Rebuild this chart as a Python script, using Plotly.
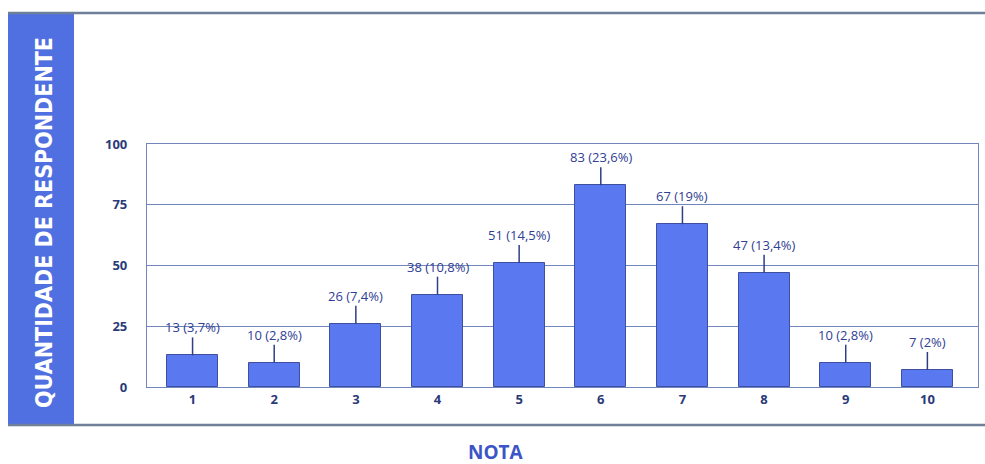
import plotly.graph_objects as go

# Survey data: number of respondents per score
notas = [1, 2, 3, 4, 5, 6, 7, 8, 9, 10]
respondentes = [13, 10, 26, 38, 51, 83, 67, 47, 10, 7]
percentuais = ["3,7%", "2,8%", "7,4%", "10,8%", "14,5%", "23,6%", "19%", "13,4%", "2,8%", "2%"]
y_ticks = [0, 25, 50, 75, 100]

W, H = 985, 464
M_L, M_R, M_T, M_B = 147, 7, 144, 77
PW, PH = W - M_L - M_R, H - M_T - M_B


def px_x(px):
    """Horizontal pixel position -> paper coordinate."""
    return (px - M_L) / PW


def px_y(py):
    """Vertical pixel position (from top) -> paper coordinate."""
    return (H - M_B - py) / PH


BAR = "#5a78ef"
NAVY = "#2f3f86"
BAND = "#506fe0"
FRAME = "#6d7f99"
GRID = "#7186bd"

fig = go.Figure()
fig.add_trace(go.Bar(
    x=notas, y=respondentes, width=0.625,
    marker=dict(color=BAR, line=dict(color="#3d4f9e", width=1)),
    hoverinfo="x+y",
))

shapes = []
annotations = []

# Leader line and value label above each bar
for n, v, p in zip(notas, respondentes, percentuais):
    shapes.append(dict(
        type="line", xref="x", yref="y", x0=n, x1=n,
        ysizemode="pixel", yanchor=v, y0=0, y1=18,
        line=dict(color=NAVY, width=1.5),
    ))
    annotations.append(dict(
        x=n, y=v, xref="x", yref="y", text=f"{v} ({p})",
        showarrow=False, xanchor="center", yanchor="bottom", yshift=17,
        font=dict(family="Open Sans", size=13, color="#2f4094"),
    ))

# Side band carrying the y-axis title
shapes.append(dict(
    type="rect", xref="paper", yref="paper",
    x0=px_x(8), x1=px_x(74), y0=px_y(425), y1=px_y(13),
    fillcolor=BAND, line=dict(width=0), layer="below",
))
# Outer frame lines
for yy in (13, 425):
    shapes.append(dict(
        type="line", xref="paper", yref="paper",
        x0=px_x(8), x1=px_x(985), y0=px_y(yy), y1=px_y(yy),
        line=dict(color=FRAME, width=2.5),
    ))

annotations.append(dict(
    xref="paper", yref="paper", x=px_x(44), y=px_y(223),
    xanchor="center", yanchor="middle",
    text="QUANTIDADE DE RESPONDENTE", textangle=-90, showarrow=False,
    font=dict(family="DejaVu Sans Condensed", weight="bold", size=23, color="white"),
))
annotations.append(dict(
    xref="paper", yref="paper", x=px_x(496), y=px_y(452),
    xanchor="center", yanchor="middle",
    text="<b>NOTA</b>", showarrow=False,
    font=dict(family="Open Sans", size=19, color="#3b55c6"),
))

fig.update_layout(
    width=W, height=H,
    margin=dict(l=M_L, r=M_R, t=M_T, b=M_B),
    paper_bgcolor="white", plot_bgcolor="white",
    showlegend=False, bargap=0,
    shapes=shapes, annotations=annotations,
)
fig.update_xaxes(
    range=[0.442, 10.62], tickmode="array", tickvals=notas,
    ticktext=[f"<b>{n}</b>" for n in notas],
    tickfont=dict(family="Open Sans", size=13, color="#2b3a78"),
    showgrid=False, zeroline=False,
    showline=True, linecolor=GRID, linewidth=1.2, mirror=True,
)
fig.update_yaxes(
    range=[0, 100], tickmode="array", tickvals=y_ticks,
    ticktext=[f"<b>{t}</b>" for t in y_ticks],
    tickfont=dict(family="Open Sans", size=13, color="#2b3a78"),
    ticklabelstandoff=16,
    showgrid=True, gridcolor=GRID, gridwidth=1.2, zeroline=False,
    showline=True, linecolor=GRID, linewidth=1.2, mirror=True,
)

fig.write_html("out.html")
